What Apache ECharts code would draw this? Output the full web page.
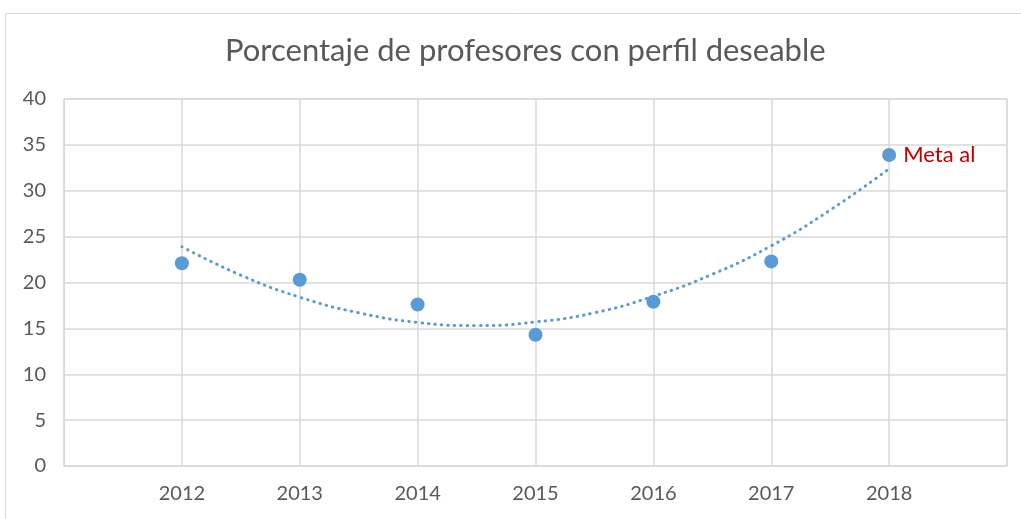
<!DOCTYPE html>
<html>
<head>
<meta charset="utf-8">
<script src="https://cdn.jsdelivr.net/npm/echarts@6/dist/echarts.min.js"></script>
<style>html,body{margin:0;padding:0;background:#fff;}#c{width:1021px;height:519px;}</style>
</head>
<body>
<div id="c"></div>
<script>
const title = 'Porcentaje de profesores con perfil deseable';
const years = [2012, 2013, 2014, 2015, 2016, 2017, 2018];
const values = [22.1, 20.3, 17.6, 14.3, 17.9, 22.3, 33.9];
const trendYears = [2012, 2012.5, 2013, 2013.5, 2014, 2014.5, 2015, 2015.5, 2016, 2016.5, 2017, 2017.5, 2018];
const trendValues = [23.9, 20.8, 18.4, 16.7, 15.65, 15.3, 15.7, 16.7, 18.5, 20.9, 24.0, 27.9, 32.4];
const yTicks = [0, 5, 10, 15, 20, 25, 30, 35, 40];
const annotation = 'Meta al';

const font = 'Lato, "Open Sans", sans-serif';
const chart = echarts.init(document.getElementById('c'), null, {renderer: 'canvas'});
chart.setOption({
  backgroundColor: '#fff',
  animation: false,
  title: {
    text: title, left: 220, top: 30,
    textStyle: {fontFamily: font, fontSize: 31, fontWeight: 'normal', color: '#595959'}
  },
  graphic: [{
    type: 'rect', left: 3, top: 11, shape: {width: 1040, height: 520},
    style: {fill: 'none', stroke: '#D9D9D9', lineWidth: 1}, silent: true
  }],
  grid: {left: 64, right: 14, top: 99, bottom: 53, show: true, borderColor: '#D9D9D9', borderWidth: 1},
  xAxis: {
    type: 'value', min: 2011, max: 2019, interval: 1,
    axisLine: {show: true, lineStyle: {color: '#D9D9D9', width: 1}},
    axisTick: {show: false},
    splitLine: {show: true, lineStyle: {color: '#D9D9D9', width: 1.5}},
    axisLabel: {
      margin: 18, fontFamily: font, fontSize: 20, color: '#595959',
      formatter: v => years.indexOf(v) >= 0 ? String(v) : ''
    }
  },
  yAxis: {
    type: 'value', min: yTicks[0], max: yTicks[yTicks.length - 1], interval: 5,
    axisLine: {show: true, lineStyle: {color: '#D9D9D9'}},
    axisTick: {show: false},
    splitLine: {show: true, lineStyle: {color: '#D9D9D9', width: 1.5}},
    axisLabel: {margin: 18, fontFamily: font, fontSize: 20, color: '#595959'}
  },
  series: [
    {
      type: 'line', smooth: 0.5, symbol: 'none', z: 2,
      data: trendYears.map((y, i) => [y, trendValues[i]]),
      lineStyle: {color: '#5B9BD5', width: 3, type: [0.5, 6], cap: 'round', opacity: 1}
    },
    {
      type: 'scatter', symbol: 'circle', symbolSize: 14, z: 3,
      itemStyle: {color: '#5B9BD5', opacity: 1},
      data: years.map((y, i) => {
        const d = {value: [y, values[i]]};
        if (i === years.length - 1) {
          d.label = {show: true, position: 'right', distance: 7, formatter: annotation,
            fontFamily: font, fontSize: 22, color: '#C00000', opacity: 1};
        }
        return d;
      })
    }
  ]
});
</script>
</body>
</html>
